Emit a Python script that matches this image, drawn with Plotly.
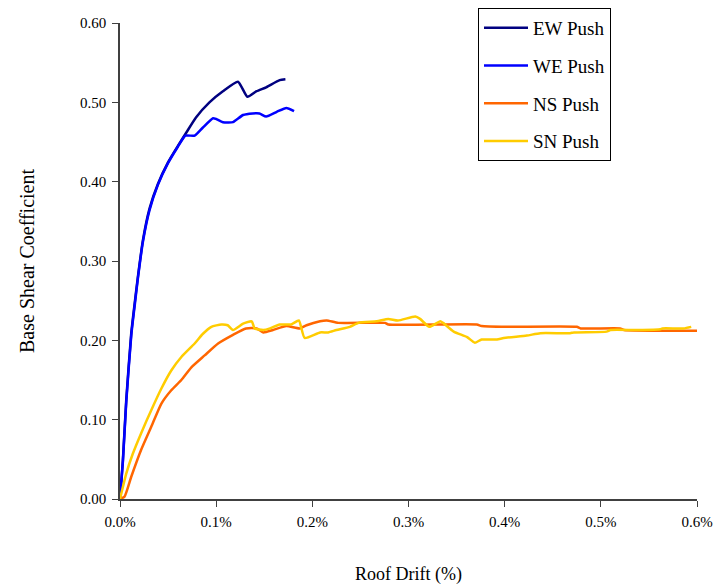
import plotly.graph_objects as go

# Roof drift (fraction) and base shear coefficient per pushover direction
ew_drift = [0.0, 0.000030, 0.000065, 0.000117, 0.000151, 0.000186, 0.000238, 0.000307, 0.000394,
            0.000498, 0.000602, 0.000690, 0.000790, 0.000930, 0.001070, 0.001227, 0.001325,
            0.001420, 0.001520, 0.001660, 0.001720]
ew_shear = [0.0, 0.049, 0.125, 0.209, 0.245, 0.280, 0.326, 0.366, 0.397,
            0.424, 0.445, 0.462, 0.481, 0.500, 0.514, 0.526, 0.507,
            0.514, 0.519, 0.528, 0.529]

we_drift = [0.0, 0.000030, 0.000065, 0.000117, 0.000151, 0.000186, 0.000238, 0.000307, 0.000394,
            0.000498, 0.000602, 0.000680, 0.000776, 0.000860, 0.000967, 0.001000, 0.001070,
            0.001175, 0.001280, 0.001380, 0.001450, 0.001520, 0.001630, 0.001730, 0.001810]
we_shear = [0.0, 0.047, 0.122, 0.206, 0.242, 0.278, 0.324, 0.364, 0.396,
            0.423, 0.444, 0.458, 0.458, 0.468, 0.480, 0.479, 0.475,
            0.475, 0.484, 0.486, 0.486, 0.482, 0.488, 0.493, 0.489]

ns_drift = [0.0, 0.000047, 0.000117, 0.000220, 0.000325, 0.000429, 0.000533, 0.000638, 0.000742,
            0.000880, 0.001020, 0.001175, 0.001310, 0.001420, 0.001490, 0.001590,
            0.001730, 0.001870, 0.001940, 0.002080, 0.002150, 0.002270, 0.002755, 0.002790,
            0.003710, 0.003760, 0.004020, 0.004750, 0.004790, 0.005200, 0.005240, 0.006000]
ns_shear = [0.0, 0.003, 0.028, 0.062, 0.091, 0.120, 0.137, 0.150, 0.166,
            0.181, 0.196, 0.207, 0.215, 0.215, 0.210, 0.213,
            0.218, 0.215, 0.219, 0.224, 0.225, 0.222, 0.222, 0.220,
            0.220, 0.218, 0.217, 0.217, 0.215, 0.215, 0.213, 0.212]

sn_drift = [0.0, 0.000065, 0.000133, 0.000220, 0.000325, 0.000429, 0.000533, 0.000638, 0.000776,
            0.000860, 0.000950, 0.001054, 0.001120, 0.001175, 0.001280, 0.001370,
            0.001400, 0.001490, 0.001560, 0.001660, 0.001780, 0.001860, 0.001920, 0.002080,
            0.002165, 0.002250, 0.002390, 0.002480, 0.002670, 0.002790, 0.002890, 0.003070,
            0.003120, 0.003217, 0.003330, 0.003360, 0.003470, 0.003610, 0.003690, 0.003760,
            0.003920, 0.003990, 0.004230, 0.004370, 0.004680, 0.004720, 0.005060, 0.005100,
            0.005380, 0.005620, 0.005640, 0.005860, 0.005940]
sn_shear = [0.0, 0.032, 0.057, 0.083, 0.112, 0.139, 0.162, 0.179, 0.196,
            0.208, 0.217, 0.220, 0.219, 0.213, 0.221, 0.224,
            0.215, 0.213, 0.215, 0.220, 0.220, 0.225, 0.203, 0.210,
            0.210, 0.213, 0.217, 0.222, 0.224, 0.227, 0.225, 0.230,
            0.227, 0.217, 0.224, 0.222, 0.211, 0.204, 0.197, 0.201,
            0.201, 0.203, 0.206, 0.209, 0.209, 0.210, 0.211, 0.213,
            0.213, 0.214, 0.215, 0.215, 0.217]

x_ticks = [0, 0.001, 0.002, 0.003, 0.004, 0.005, 0.006]
y_ticks = [0.0, 0.1, 0.2, 0.3, 0.4, 0.5, 0.6]

series = [
    ("EW Push", ew_drift, ew_shear, "#000080"),
    ("WE Push", we_drift, we_shear, "#0000FF"),
    ("NS Push", ns_drift, ns_shear, "#FF6600"),
    ("SN Push", sn_drift, sn_shear, "#FFCC00"),
]

fig = go.Figure()
for i, (name, xs, ys, col) in enumerate(series):
    fig.add_trace(go.Scatter(x=xs, y=ys, mode="lines", name=name,
                             legendgroup=f"g{i}",
                             line=dict(color=col, width=2.5, shape="spline", smoothing=0.5)))

# page body has an 8px default margin, so the figure is sized/offset for it
font_family = "Liberation Serif, Times New Roman, serif"
fig.update_layout(
    width=713, height=578,
    margin=dict(l=112, r=24, t=15, b=87, autoexpand=False),
    paper_bgcolor="white", plot_bgcolor="white",
    font=dict(family=font_family, size=15, color="black"),
    showlegend=True,
    legend=dict(x=(478 - 120) / 577, y=1 + 15 / 476, xanchor="left", yanchor="top",
                bgcolor="white", bordercolor="black", borderwidth=1,
                font=dict(family=font_family, size=19, color="black"),
                traceorder="grouped", tracegroupgap=10, itemwidth=44),
    xaxis=dict(range=[0, 0.006], tickvals=x_ticks, tickformat=".1%",
               showgrid=False, zeroline=False, showline=True, automargin=False,
               linecolor="#404040", linewidth=1.5, ticks="outside", ticklen=6,
               tickcolor="#404040", tickfont=dict(size=15), ticklabelstandoff=2,
               title=dict(text="Roof Drift (%)", font=dict(size=18), standoff=39)),
    yaxis=dict(range=[0, 0.6], tickvals=y_ticks, tickformat=".2f",
               showgrid=False, zeroline=False, showline=True, automargin=False,
               linecolor="#404040", linewidth=1.5, ticks="outside", ticklen=6,
               tickcolor="#404040", tickfont=dict(size=15), ticklabelstandoff=3,
               title=dict(text="Base Shear Coefficient", font=dict(size=20), standoff=40)),
)

fig.write_html("out.html")
